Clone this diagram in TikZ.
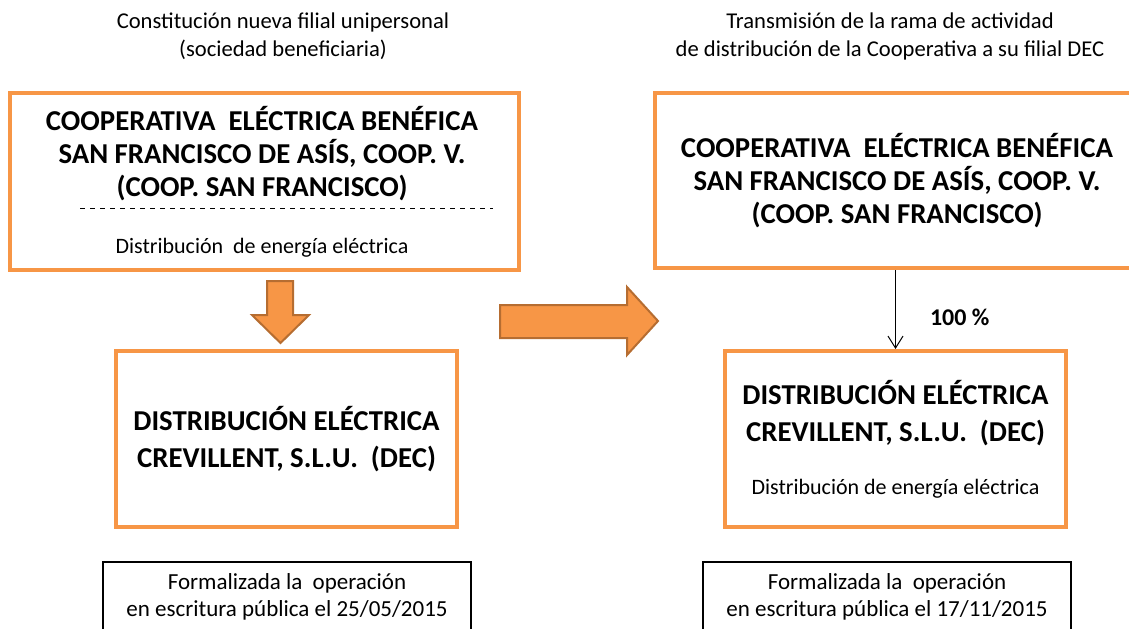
\documentclass[tikz,border=0pt]{standalone}
\usepackage{fontspec}
\setmainfont{Carlito}
\usepackage{tikz}
\usetikzlibrary{arrows.meta,positioning}
\definecolor{boxorange}{HTML}{F79646}
\definecolor{arrowedge}{HTML}{B66D31}
\tikzset{
    orangebox/.style={draw=boxorange,line width=2pt,align=center,inner sep=0pt},
    notebox/.style={draw=black,line width=0.75pt,align=center,inner sep=0pt,minimum width=184pt,minimum height=35pt,font=\fontsize{11.5}{13.5}\selectfont},
    titletext/.style={align=center,font=\fontsize{14.4}{16.5}\selectfont\bfseries},
    dectext/.style={align=center,font=\fontsize{14.4}{18.5}\selectfont\bfseries},
    smalltext/.style={align=center,font=\fontsize{11}{12}\selectfont},
    captiontext/.style={align=center,font=\fontsize{11.3}{14}\selectfont},
    pctlabel/.style={font=\fontsize{12}{14}\selectfont\bfseries,inner sep=0pt},
    blockarrow/.style={fill=boxorange,draw=arrowedge,line width=1pt,line join=miter}
}

\begin{document}
\begin{tikzpicture}[x=0.5pt,y=-0.5pt,>={Straight Barb[length=6pt,width=7.5pt]}]
\useasboundingbox (0,0) rectangle (1129,628);
\clip (0,0) rectangle (1129,628);

\node[captiontext] (capL) at (283,36) {Constitución nueva filial unipersonal\\(sociedad beneficiaria)};
\node[captiontext] (capR) at (890,36) {Transmisión de la rama de actividad\\de distribución de la Cooperativa a su filial DEC};

% left side
\node[orangebox,minimum width=254.5pt,minimum height=88.5pt] (coopA) at (264.5,181.5) {};
\node[titletext] (coopAtitle) at (262,154) {COOPERATIVA~ ELÉCTRICA BENÉFICA\\SAN FRANCISCO DE ASÍS, COOP. V.\\(COOP. SAN FRANCISCO)};
\coordinate (dashL) at (80,208);
\coordinate (dashR) at (493,208);
\draw[dash pattern=on 2.5pt off 2.5pt,line width=0.5pt] (dashL) -- (dashR);
\node[smalltext] (coopAsub) at (262,248) {Distribución~ de energía eléctrica};

\draw[blockarrow] (267,281) -- (293,281) -- (293,315) -- (309,315) -- (280.5,343) -- (252,315) -- (267,315) -- cycle;

\node[orangebox,dectext,minimum width=170.5pt,minimum height=88pt] (decA) at (286.5,439) {DISTRIBUCIÓN ELÉCTRICA\\CREVILLENT, S.L.U.~ (DEC)};
\node[notebox] (noteA) at (287,597) {Formalizada la~ operación\\en escritura pública el 25/05/2015};

% middle arrow
\draw[blockarrow] (500,305) -- (627,305) -- (627,287) -- (658,321) -- (627,355) -- (627,338) -- (500,338) -- cycle;

% right side
\node[orangebox,titletext,minimum width=242pt,minimum height=87.5pt] (coopB) at (897,180.5) {COOPERATIVA~ ELÉCTRICA BENÉFICA\\SAN FRANCISCO DE ASÍS, COOP. V.\\(COOP. SAN FRANCISCO)};
\node[orangebox,minimum width=170.5pt,minimum height=88pt] (decB) at (895.5,439) {};
\node[dectext] (decBtitle) at (895.5,413) {DISTRIBUCIÓN ELÉCTRICA\\CREVILLENT, S.L.U.~ (DEC)};
\node[smalltext] (decBsub) at (895.5,489) {Distribución de energía eléctrica};
\node[notebox] (noteB) at (887,597) {Formalizada la~ operación\\en escritura pública el 17/11/2015};

\draw[->,line width=0.5pt] (coopB.south -| decB.north) -- node[pctlabel,pos=0.6,right=17pt] {100 \%} (decB.north);

\end{tikzpicture}
\end{document}
